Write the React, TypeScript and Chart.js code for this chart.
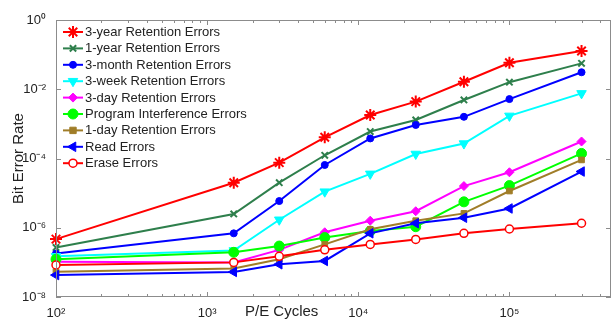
import React, { useEffect, useRef } from 'react';
import { Chart, registerables } from 'chart.js';

Chart.register(...registerables);

// ---- data ----
const peCycles = [100, 1500, 3000, 6000, 12000, 24000, 50000, 100000, 300000];

const threeYearRetention = [4.7e-7, 2.0e-5, 7.6e-5, 4.1e-4, 1.8e-3, 4.4e-3, 1.65e-2, 5.8e-2, 0.127];
const oneYearRetention = [2.7e-7, 2.5e-6, 2.0e-5, 1.24e-4, 6.0e-4, 1.3e-3, 4.9e-3, 1.6e-2, 5.6e-2];
const threeMonthRetention = [1.8e-7, 6.9e-7, 5.9e-6, 6.5e-5, 3.8e-4, 9.3e-4, 1.6e-3, 5.2e-3, 3.1e-2];
const threeWeekRetention = [1.5e-7, 2.2e-7, 1.7e-6, 1.1e-5, 3.6e-5, 1.35e-4, 2.7e-4, 1.7e-3, 7.6e-3];
const threeDayRetention = [1.05e-7, 1.0e-7, 2.3e-7, 7.4e-7, 1.6e-6, 3.0e-6, 1.6e-5, 4.0e-5, 3.1e-4];
const programInterference = [1.23e-7, 1.95e-7, 2.96e-7, 5.2e-7, 8.0e-7, 1.07e-6, 5.6e-6, 1.65e-5, 1.4e-4];
const oneDayRetention = [5.4e-8, 6.7e-8, 1.23e-7, 3.3e-7, 9.0e-7, 1.6e-6, 2.6e-6, 1.15e-5, 9.1e-5];
const readErrors = [4.3e-8, 5.3e-8, 8.8e-8, 1.1e-7, 6.9e-7, 1.35e-6, 1.95e-6, 3.6e-6, 4.2e-5];
const eraseErrors = [8.4e-8, 1.0e-7, 1.5e-7, 2.3e-7, 3.3e-7, 4.6e-7, 6.9e-7, 9.2e-7, 1.35e-6];

const seriesLabels = [
  '3-year Retention Errors',
  '1-year Retention Errors',
  '3-month Retention Errors',
  '3-week Retention Errors',
  '3-day Retention Errors',
  'Program Interference Errors',
  '1-day Retention Errors',
  'Read Errors',
  'Erase Errors',
];
const seriesValues = [
  threeYearRetention,
  oneYearRetention,
  threeMonthRetention,
  threeWeekRetention,
  threeDayRetention,
  programInterference,
  oneDayRetention,
  readErrors,
  eraseErrors,
];

const xTickValues = [1e2, 1e3, 1e4, 1e5];
const yTickValues = [1e-8, 1e-6, 1e-4, 1e-2, 1];
const xAxisTitle = 'P/E Cycles';
const yAxisTitle = 'Bit Error Rate';

// ---- styles ----
type Style = { color: string; point: string; radius: number; rotation: number; fill: string; pointBorder: number };
const styles: Style[] = [
  { color: '#ff0000', point: 'star', radius: 6, rotation: 0, fill: '#ff0000', pointBorder: 2 },
  { color: '#2e7f4c', point: 'crossRot', radius: 4.5, rotation: 0, fill: '#2e7f4c', pointBorder: 2 },
  { color: '#0000ff', point: 'circle', radius: 3.5, rotation: 0, fill: '#0000ff', pointBorder: 1 },
  { color: '#00ffff', point: 'triangle', radius: 5.5, rotation: 180, fill: '#00ffff', pointBorder: 1 },
  { color: '#ff00ff', point: 'rectRot', radius: 4.5, rotation: 0, fill: '#ff00ff', pointBorder: 1 },
  { color: '#00ff00', point: 'circle', radius: 5, rotation: 0, fill: '#00ff00', pointBorder: 1 },
  { color: '#a07d28', point: 'rect', radius: 4, rotation: 0, fill: '#a07d28', pointBorder: 1 },
  { color: '#0000ff', point: 'triangle', radius: 5.5, rotation: 270, fill: '#0000ff', pointBorder: 1 },
  { color: '#ff0000', point: 'circle', radius: 4, rotation: 0, fill: '#ffffff', pointBorder: 1.5 },
];

const FONT = '"Liberation Sans", Arial, Helvetica, sans-serif';
const TEXT = '#222222';

const SUP: Record<string, string> = {
  '0': '\u2070', '1': '\u00b9', '2': '\u00b2', '3': '\u00b3', '4': '\u2074',
  '5': '\u2075', '6': '\u2076', '7': '\u2077', '8': '\u2078', '9': '\u2079', '-': '\u207b',
};
function pow10Label(v: number): string {
  const e = Math.round(Math.log10(v));
  return '10' + String(e).split('').map((c) => SUP[c]).join('');
}
function isDecade(v: number, list: number[]): boolean {
  return list.some((t) => Math.abs(Math.log10(t) - Math.log10(v)) < 1e-6);
}

function drawMarker(ctx: CanvasRenderingContext2D, s: Style, x: number, y: number) {
  const r = s.radius;
  ctx.save();
  ctx.strokeStyle = s.color;
  ctx.fillStyle = s.fill;
  ctx.lineWidth = s.pointBorder;
  ctx.beginPath();
  if (s.point === 'circle') {
    ctx.arc(x, y, r, 0, Math.PI * 2);
    ctx.fill();
    ctx.stroke();
  } else if (s.point === 'star' || s.point === 'crossRot') {
    const angles = s.point === 'star' ? [0, 45, 90, 135] : [45, 135];
    for (const a of angles) {
      const rad = (a * Math.PI) / 180;
      ctx.moveTo(x - Math.cos(rad) * r, y - Math.sin(rad) * r);
      ctx.lineTo(x + Math.cos(rad) * r, y + Math.sin(rad) * r);
    }
    ctx.stroke();
  } else if (s.point === 'triangle') {
    const rot = (s.rotation * Math.PI) / 180;
    for (let i = 0; i < 3; i++) {
      const a = rot + (i * 2 * Math.PI) / 3;
      const px = x + Math.sin(a) * r;
      const py = y - Math.cos(a) * r;
      if (i === 0) ctx.moveTo(px, py);
      else ctx.lineTo(px, py);
    }
    ctx.closePath();
    ctx.fill();
    ctx.stroke();
  } else if (s.point === 'rectRot') {
    ctx.moveTo(x, y - r);
    ctx.lineTo(x + r, y);
    ctx.lineTo(x, y + r);
    ctx.lineTo(x - r, y);
    ctx.closePath();
    ctx.fill();
    ctx.stroke();
  } else if (s.point === 'rect') {
    const h = r * 0.8;
    ctx.rect(x - h, y - h, h * 2, h * 2);
    ctx.fill();
    ctx.stroke();
  }
  ctx.restore();
}

const framePlugin = {
  id: 'matlabFrame',
  afterDatasetsDraw(chart: any) {
    const { ctx, chartArea: a, scales } = chart;
    ctx.save();
    ctx.strokeStyle = '#8c8c8c';
    ctx.lineWidth = 1;
    ctx.strokeRect(a.left + 0.5, a.top + 0.5, a.right - a.left - 1, a.bottom - a.top - 1);
    const line = (x1: number, y1: number, x2: number, y2: number) => {
      ctx.beginPath();
      ctx.moveTo(x1, y1);
      ctx.lineTo(x2, y2);
      ctx.stroke();
    };
    const xs = scales.x;
    for (let e = 2; e <= 5; e++) {
      for (let m = 1; m <= 9; m++) {
        const v = m * Math.pow(10, e);
        if (v > xs.max) break;
        const px = Math.round(xs.getPixelForValue(v)) + 0.5;
        const len = m === 1 ? 5 : 3;
        line(px, a.bottom, px, a.bottom - len);
        line(px, a.top, px, a.top + len);
      }
    }
    const ys = scales.y;
    for (const v of yTickValues) {
      const py = Math.round(ys.getPixelForValue(v)) + 0.5;
      line(a.left, py, a.left + 5, py);
      line(a.right, py, a.right - 5, py);
    }
    ctx.restore();
  },
  afterDraw(chart: any) {
    const { ctx, chartArea: a } = chart;
    ctx.save();
    // legend
    ctx.font = `13px ${FONT}`;
    ctx.textBaseline = 'middle';
    ctx.textAlign = 'left';
    seriesLabels.forEach((label, i) => {
      const s = styles[i];
      const y = a.top + 12 + i * 16.4;
      ctx.strokeStyle = s.color;
      ctx.lineWidth = 2;
      ctx.beginPath();
      ctx.moveTo(a.left + 7, y);
      ctx.lineTo(a.left + 27, y);
      ctx.stroke();
      drawMarker(ctx, s, a.left + 17, y);
      ctx.fillStyle = TEXT;
      ctx.fillText(label, a.left + 29, y + 0.5);
    });
    // axis titles
    ctx.fillStyle = TEXT;
    ctx.font = `15px ${FONT}`;
    ctx.textAlign = 'left';
    ctx.textBaseline = 'alphabetic';
    ctx.fillText(xAxisTitle, 245, 316);
    ctx.translate(19, (a.top + a.bottom) / 2);
    ctx.rotate(-Math.PI / 2);
    ctx.textAlign = 'center';
    ctx.textBaseline = 'middle';
    ctx.fillText(yAxisTitle, 0, 0);
    ctx.restore();
  },
};

export default function App() {
  const canvasRef = useRef<HTMLCanvasElement | null>(null);

  useEffect(() => {
    document.body.style.margin = '0';
    const canvas = canvasRef.current;
    if (!canvas) return;
    const datasets = seriesLabels.map((label, i) => {
      const s = styles[i];
      return {
        label,
        data: peCycles.map((x, j) => ({ x, y: seriesValues[i][j] })),
        borderColor: s.color,
        backgroundColor: s.fill,
        borderWidth: 2,
        pointStyle: s.point,
        pointRadius: s.radius,
        pointRotation: s.rotation,
        pointBorderWidth: s.pointBorder,
        pointBorderColor: s.color,
        pointBackgroundColor: s.fill,
        tension: 0,
        clip: 12,
        order: 9 - i,
      };
    });
    const chart = new Chart(canvas, {
      type: 'line',
      data: { datasets },
      options: {
        responsive: false,
        animation: false,
        devicePixelRatio: 1,
        layout: { autoPadding: false, padding: { top: 20, right: 2, left: 0, bottom: 0 } },
        plugins: { legend: { display: false }, tooltip: { enabled: false } },
        scales: {
          x: {
            type: 'logarithmic',
            min: 100,
            max: 470000,
            grid: { display: false },
            border: { display: false },
            ticks: {
              autoSkip: false,
              maxRotation: 0,
              padding: 1,
              color: TEXT,
              font: { size: 13, family: FONT },
              callback: (v: any) => (isDecade(Number(v), xTickValues) ? pow10Label(Number(v)) : ''),
            },
            afterBuildTicks: (s: any) => {
              s.ticks = xTickValues.map((value) => ({ value }));
            },
            afterFit: (s: any) => {
              s.height = 23;
              s.paddingLeft = 0;
              s.paddingRight = 0;
            },
          },
          y: {
            type: 'logarithmic',
            min: 1e-8,
            max: 1,
            grid: { display: false },
            border: { display: false },
            ticks: {
              autoSkip: false,
              padding: 2,
              color: TEXT,
              font: { size: 13, family: FONT },
              callback: (v: any) => (isDecade(Number(v), yTickValues) ? pow10Label(Number(v)) : ''),
            },
            afterBuildTicks: (s: any) => {
              s.ticks = yTickValues.map((value) => ({ value }));
            },
            afterFit: (s: any) => {
              s.width = 56;
              s.paddingTop = 0;
              s.paddingBottom = 0;
            },
          },
        },
      },
      plugins: [framePlugin],
    } as any);
    return () => chart.destroy();
  }, []);

  return (
    <div style={{ width: 613, height: 320, background: '#ffffff' }}>
      <canvas ref={canvasRef} width={613} height={320} style={{ display: 'block' }} />
    </div>
  );
}
